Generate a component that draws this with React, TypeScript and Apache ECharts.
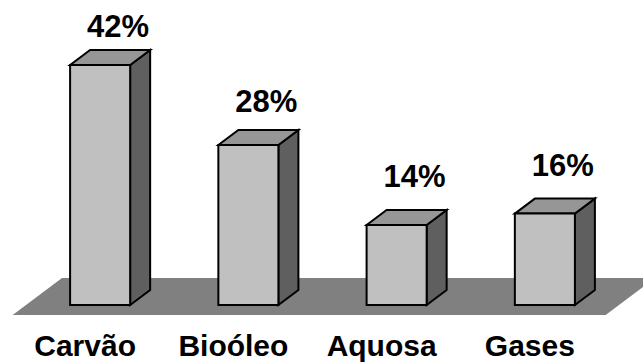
import React, { useEffect, useRef } from "react";
import * as echarts from "echarts";

// Product yield by fraction (%)
const categories = ["Carvão", "Bioóleo", "Aquosa", "Gases"];
const yields = [42, 28, 14, 16];

const FONT = "'Liberation Sans', Arial, Helvetica, sans-serif";

// Oblique depth of the 3D columns (px right, px up)
const DEPTH_X = 20;
const DEPTH_Y = 15;

export default function App() {
  const ref = useRef<HTMLDivElement>(null);

  useEffect(() => {
    if (!ref.current) return;
    const chart = echarts.init(ref.current, null, { renderer: "svg" });

    const floorItem = (params: any, api: any) => {
      const cs = params.coordSys;
      const yb = api.coord([0, 0])[1];
      const k = DEPTH_X / DEPTH_Y;
      const front = yb + 10;
      const back = yb - 27;
      const xl = cs.x;
      const xr = cs.x + cs.width;
      return {
        type: "polygon",
        shape: {
          points: [
            [xl - 10 * k, front],
            [xr - 10 * k, front],
            [xr + 27 * k, back],
            [xl + 27 * k, back],
          ],
        },
        style: { fill: "#808080", stroke: "none" },
      };
    };

    const barItem = (params: any, api: any) => {
      const i = api.value(0);
      const v = api.value(1);
      const base = api.coord([i, 0]);
      const top = api.coord([i, v]);
      const band = api.size([1, 0])[0];
      const w = band * 0.405;
      const x0 = base[0] - w / 2;
      const x1 = base[0] + w / 2;
      const yb = base[1];
      const yt = top[1];
      const lineStyle = { stroke: "#000", lineWidth: 2, lineJoin: "miter" };
      // labels sit slightly closer together than the column tops
      const labelY = api.coord([i, v * 0.935])[1] - 54;
      return {
        type: "group",
        children: [
          {
            type: "polygon",
            shape: {
              points: [
                [x1, yb],
                [x1 + DEPTH_X, yb - DEPTH_Y],
                [x1 + DEPTH_X, yt - DEPTH_Y],
                [x1, yt],
              ],
            },
            style: { fill: "#5f5f5f", ...lineStyle },
          },
          {
            type: "polygon",
            shape: {
              points: [
                [x0, yt],
                [x0 + DEPTH_X, yt - DEPTH_Y],
                [x1 + DEPTH_X, yt - DEPTH_Y],
                [x1, yt],
              ],
            },
            style: { fill: "#969696", ...lineStyle },
          },
          {
            type: "rect",
            shape: { x: x0, y: yt, width: w, height: yb - yt },
            style: { fill: "#c0c0c0", ...lineStyle },
          },
          {
            type: "text",
            x: base[0] + 18,
            y: labelY,
            style: {
              text: v + "%",
              fill: "#000",
              font: `bold 31px ${FONT}`,
              align: "center",
              verticalAlign: "middle",
            },
          },
        ],
      };
    };

    chart.setOption({
      animation: false,
      backgroundColor: "#fff",
      grid: { left: 26, right: 24, top: 19.3, bottom: 58 },
      xAxis: {
        type: "category",
        data: categories,
        axisLine: { show: false },
        axisTick: { show: false },
        splitLine: { show: false },
        axisLabel: {
          margin: 25,
          color: "#000",
          fontFamily: FONT,
          fontWeight: "bold",
          fontSize: 30,
          padding: [0, 30, 0, 0],
        },
      },
      yAxis: {
        type: "value",
        min: 0,
        max: 50,
        show: false,
        splitLine: { show: false },
      },
      series: [
        {
          type: "custom",
          z: 1,
          renderItem: floorItem,
          data: [[0, 0]],
          silent: true,
        },
        {
          type: "custom",
          z: 2,
          renderItem: barItem,
          encode: { x: 0, y: 1 },
          data: yields.map((v, i) => [i, v]),
        },
      ],
    });

    return () => chart.dispose();
  }, []);

  return (
    <div
      ref={ref}
      style={{ position: "fixed", left: 0, top: 0, width: 643, height: 363 }}
    />
  );
}
